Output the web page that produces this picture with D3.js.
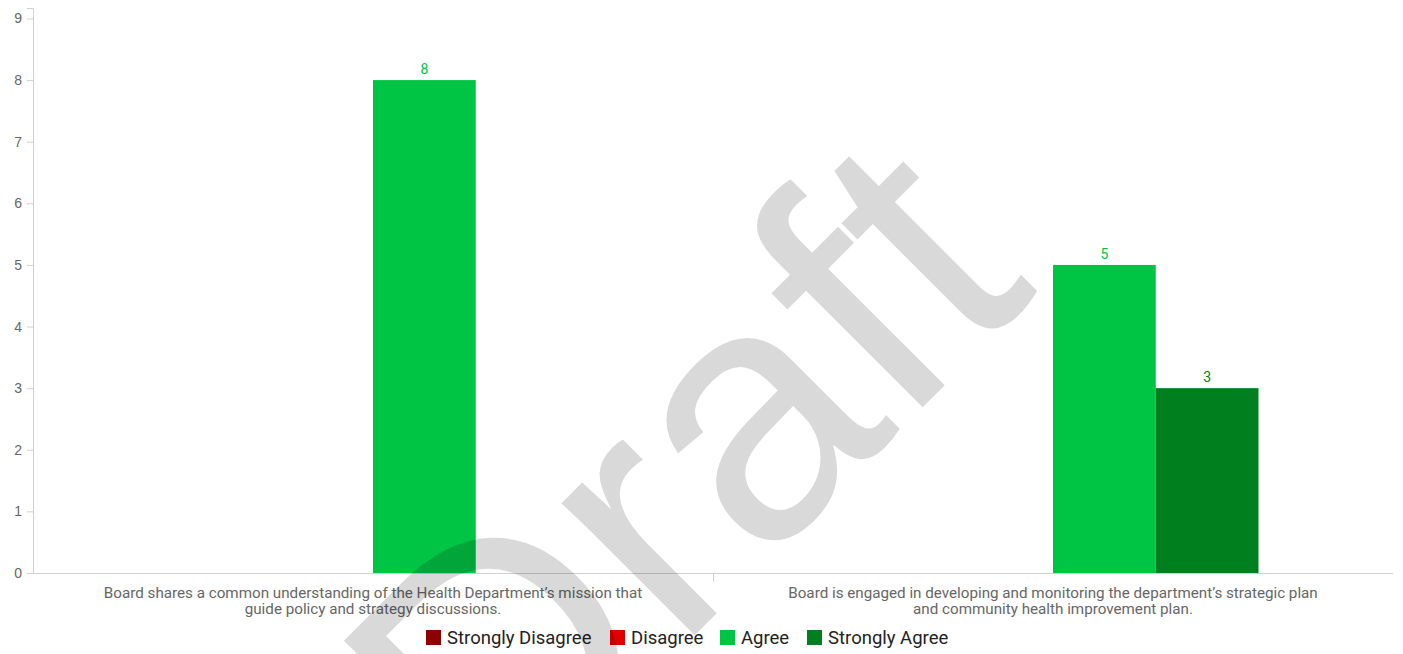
<!DOCTYPE html>
<html>
<head>
<meta charset="utf-8">
<script src="https://cdn.jsdelivr.net/npm/d3@7"></script>
<style>
  body { margin: 0; background: #fff; }
  svg { display: block; font-family: Roboto, "Liberation Sans", sans-serif; }
</style>
</head>
<body>
<div id="chart"></div>
<script>
// chart data
const categories = [
  ["Board shares a common understanding of the Health Department\u2019s mission that", "guide policy and strategy discussions."],
  ["Board is engaged in developing and monitoring the department\u2019s strategic plan", "and community health improvement plan."]
]
const seriesNames = ["Strongly Disagree", "Disagree", "Agree", "Strongly Agree"]
const seriesColors = ["#8b0000", "#e00000", "#00c443", "#007f1f"]
const stronglyDisagree = [0, 0]
const disagree = [0, 0]
const agree = [8, 5]
const stronglyAgree = [0, 3]
const yTicks = [0, 1, 2, 3, 4, 5, 6, 7, 8, 9]

const width = 1403, height = 654
const plotLeft = 33, plotRight = 1393, plotBottom = 573, plotTop = 8

const values = [stronglyDisagree, disagree, agree, stronglyAgree]
const catIdx = categories.map((c, i) => i)

const svg = d3.select("#chart").append("svg")
  .attr("width", width)
  .attr("height", height)

const x0 = d3.scaleBand()
  .domain(catIdx)
  .range([plotLeft, plotRight])
  .paddingInner(0)

const x1 = d3.scaleBand()
  .domain(seriesNames)
  .range([0, x0.bandwidth()])
  .paddingInner(0)
  .paddingOuter(1.309)

const y = d3.scaleLinear()
  .domain([0, 9.17])
  .range([plotBottom, plotTop])

// y axis
const yAxis = svg.append("g")
  .attr("transform", "translate(" + plotLeft + ",0)")
  .call(d3.axisLeft(y).tickValues(yTicks).tickSize(6).tickPadding(5))
yAxis.select(".domain").attr("stroke", "#d0d0d0")
yAxis.selectAll(".tick line").attr("stroke", "#d0d0d0")
yAxis.selectAll("text").attr("fill", "#666").style("font-size", "14px")

// x axis line + separator tick
svg.append("line")
  .attr("x1", plotLeft).attr("x2", plotRight)
  .attr("y1", plotBottom + 0.5).attr("y2", plotBottom + 0.5)
  .attr("stroke", "#d0d0d0")
catIdx.slice(1).forEach(i => {
  svg.append("line")
    .attr("x1", Math.round(x0(i)) + 0.5).attr("x2", Math.round(x0(i)) + 0.5)
    .attr("y1", plotBottom).attr("y2", plotBottom + 9)
    .attr("stroke", "#d0d0d0")
})

// category labels
categories.forEach((lines, i) => {
  const t = svg.append("text")
    .attr("text-anchor", "middle")
    .attr("fill", "#666")
    .style("font-size", "15.2px")
  lines.forEach((ln, j) => {
    t.append("tspan")
      .attr("x", x0(i) + x0.bandwidth() / 2)
      .attr("y", 598 + j * 16)
      .text(ln)
  })
})

// bars
const groups = svg.append("g").selectAll("g")
  .data(catIdx)
  .join("g")
  .attr("transform", d => "translate(" + x0(d) + ",0)")

groups.selectAll("rect")
  .data(ci => seriesNames.map((s, si) => ({s: s, si: si, v: values[si][ci]})).filter(d => d.v > 0))
  .join("rect")
  .attr("x", d => x1(d.s))
  .attr("width", x1.bandwidth())
  .attr("y", d => y(d.v))
  .attr("height", d => y(0) - y(d.v))
  .attr("fill", d => seriesColors[d.si])

groups.selectAll("text.val")
  .data(ci => seriesNames.map((s, si) => ({s: s, si: si, v: values[si][ci]})).filter(d => d.v > 0))
  .join("text")
  .attr("class", "val")
  .attr("x", d => x1(d.s) + x1.bandwidth() / 2)
  .attr("y", d => y(d.v) - 6)
  .attr("text-anchor", "middle")
  .attr("fill", d => seriesColors[d.si])
  .style("font-size", "14px")
  .text(d => d.v)

// legend
const legend = svg.append("g")
const legendX = [426, 610, 720, 807]
seriesNames.forEach((s, i) => {
  legend.append("rect")
    .attr("x", legendX[i]).attr("y", 630)
    .attr("width", 15).attr("height", 15)
    .attr("fill", seriesColors[i])
  legend.append("text")
    .attr("x", legendX[i] + 21).attr("y", 644)
    .attr("fill", "#222")
    .style("font-size", "18.5px")
    .text(s)
})

// watermark
svg.append("text")
  .attr("transform", "translate(768,562) rotate(-45)")
  .attr("text-anchor", "middle")
  .attr("fill", "#000")
  .attr("fill-opacity", 0.15)
  .style("font-family", "'Liberation Sans', Arial, sans-serif")
  .style("font-size", "355px")
  .text("Draft")
</script>
</body>
</html>
